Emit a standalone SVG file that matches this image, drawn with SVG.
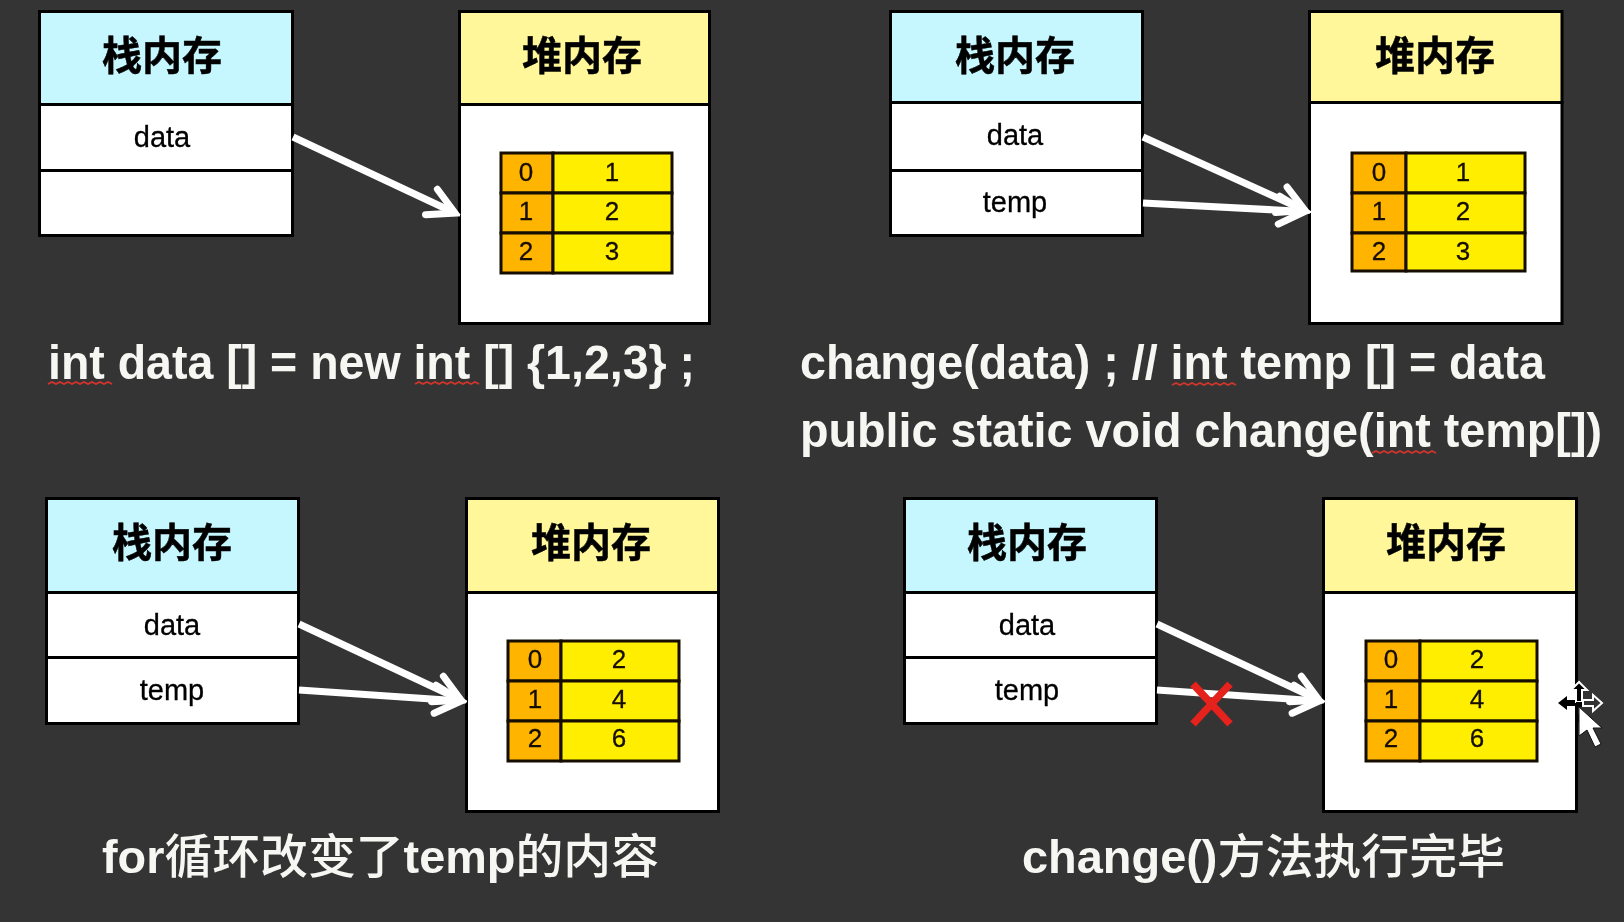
<svg xmlns="http://www.w3.org/2000/svg" width="1624" height="922" viewBox="0 0 1624 922">
<style>
.box{stroke:#000;stroke-width:3}
.stack{fill:#c6f7ff}.heap{fill:#fff799}.cell{fill:#fff}
.idx{fill:#ffb400;stroke:#140e00;stroke-width:3}.val{fill:#ffee00;stroke:#140e00;stroke-width:3}
.t{font-family:"Noto Sans CJK SC",sans-serif;font-size:40px;font-weight:700;fill:#000;stroke:#000;stroke-width:.5;text-anchor:middle}
.v{font-family:"Liberation Sans",Arial,sans-serif;font-size:29px;fill:#000;stroke:#000;stroke-width:.3;text-anchor:middle}
.n{font-family:"Liberation Sans",Arial,sans-serif;font-size:26px;fill:#140e00;stroke:#140e00;stroke-width:.3;text-anchor:middle}
.c{font-family:"Liberation Sans","Noto Sans CJK SC",sans-serif;font-size:48px;font-weight:700;fill:#f6f6f3}
.c2{font-size:46px}
.z{font-family:"Noto Sans CJK SC",sans-serif;font-size:47px;font-weight:500}
.arrow{fill:none;stroke:#fff;stroke-width:7;marker-end:url(#open)}
.sq{fill:none;stroke:#d4342c;stroke-width:1.8}
</style>
<defs>
<marker id="open" markerUnits="userSpaceOnUse" viewBox="-36 -20 42 40" refX="0" refY="0" markerWidth="42" markerHeight="40" orient="auto">
<path d="M-26,-14 L0,0 L-26,14" fill="none" stroke="#fff" stroke-width="7" stroke-linecap="round"/>
</marker>
<filter id="soft" x="-2%" y="-2%" width="104%" height="104%"><feGaussianBlur stdDeviation="0.5"/></filter>
</defs>
<rect width="1624" height="922" fill="#343434"/>
<g filter="url(#soft)">
<g id="stack1">
<rect class="box stack" x="39.500" y="11.500" width="253" height="93"/>
<rect class="box cell" x="39.500" y="104.500" width="253" height="66"/>
<rect class="box cell" x="39.500" y="170.500" width="253" height="65"/>
<text class="t" x="162" y="70">栈内存</text>
<text class="v" x="162" y="147">data</text>
</g>
<g id="heap1">
<rect class="box heap" x="459.500" y="11.500" width="250" height="93"/>
<rect class="box cell" x="459.500" y="104.500" width="250" height="219"/>
<text class="t" x="582" y="70">堆内存</text>
<rect class="idx" x="501" y="153" width="52" height="40"/><rect class="val" x="553" y="153" width="119" height="40"/>
<rect class="idx" x="501" y="193" width="52" height="40"/><rect class="val" x="553" y="193" width="119" height="40"/>
<rect class="idx" x="501" y="233" width="52" height="40"/><rect class="val" x="553" y="233" width="119" height="40"/>
<text class="n" x="526" y="181">0</text><text class="n" x="612" y="181">1</text>
<text class="n" x="526" y="220">1</text><text class="n" x="612" y="220">2</text>
<text class="n" x="526" y="260">2</text><text class="n" x="612" y="260">3</text>
</g>
<g id="stack2">
<rect class="box stack" x="890.500" y="11.500" width="252" height="91"/>
<rect class="box cell" x="890.500" y="102.500" width="252" height="68"/>
<rect class="box cell" x="890.500" y="170.500" width="252" height="65"/>
<text class="t" x="1015" y="70">栈内存</text>
<text class="v" x="1015" y="145">data</text>
<text class="v" x="1015" y="212">temp</text>
</g>
<g id="heap2">
<rect class="box heap" x="1309.500" y="11.500" width="252.500" height="91"/>
<rect class="box cell" x="1309.500" y="102.500" width="252.500" height="221"/>
<text class="t" x="1435" y="70">堆内存</text>
<rect class="idx" x="1352" y="153" width="54" height="40"/><rect class="val" x="1406" y="153" width="119" height="40"/>
<rect class="idx" x="1352" y="193" width="54" height="40"/><rect class="val" x="1406" y="193" width="119" height="40"/>
<rect class="idx" x="1352" y="233" width="54" height="38"/><rect class="val" x="1406" y="233" width="119" height="38"/>
<text class="n" x="1379" y="181">0</text><text class="n" x="1463" y="181">1</text>
<text class="n" x="1379" y="220">1</text><text class="n" x="1463" y="220">2</text>
<text class="n" x="1379" y="260">2</text><text class="n" x="1463" y="260">3</text>
</g>
<g id="stack3">
<rect class="box stack" x="46.500" y="498.500" width="252" height="94"/>
<rect class="box cell" x="46.500" y="592.500" width="252" height="65"/>
<rect class="box cell" x="46.500" y="657.500" width="252" height="66"/>
<text class="t" x="172" y="557">栈内存</text>
<text class="v" x="172" y="635">data</text>
<text class="v" x="172" y="700">temp</text>
</g>
<g id="heap3">
<rect class="box heap" x="466.500" y="498.500" width="252" height="94"/>
<rect class="box cell" x="466.500" y="592.500" width="252" height="219"/>
<text class="t" x="591" y="557">堆内存</text>
<rect class="idx" x="508" y="641" width="53" height="40"/><rect class="val" x="561" y="641" width="118" height="40"/>
<rect class="idx" x="508" y="681" width="53" height="40"/><rect class="val" x="561" y="681" width="118" height="40"/>
<rect class="idx" x="508" y="721" width="53" height="40"/><rect class="val" x="561" y="721" width="118" height="40"/>
<text class="n" x="535" y="668">0</text><text class="n" x="619" y="668">2</text>
<text class="n" x="535" y="708">1</text><text class="n" x="619" y="708">4</text>
<text class="n" x="535" y="747">2</text><text class="n" x="619" y="747">6</text>
</g>
<g id="stack4">
<rect class="box stack" x="904.500" y="498.500" width="252" height="94"/>
<rect class="box cell" x="904.500" y="592.500" width="252" height="65"/>
<rect class="box cell" x="904.500" y="657.500" width="252" height="66"/>
<text class="t" x="1027" y="557">栈内存</text>
<text class="v" x="1027" y="635">data</text>
<text class="v" x="1027" y="700">temp</text>
</g>
<g id="heap4">
<rect class="box heap" x="1323.500" y="498.500" width="253" height="94"/>
<rect class="box cell" x="1323.500" y="592.500" width="253" height="219"/>
<text class="t" x="1446" y="557">堆内存</text>
<rect class="idx" x="1366" y="641" width="54" height="40"/><rect class="val" x="1420" y="641" width="117" height="40"/>
<rect class="idx" x="1366" y="681" width="54" height="40"/><rect class="val" x="1420" y="681" width="117" height="40"/>
<rect class="idx" x="1366" y="721" width="54" height="40"/><rect class="val" x="1420" y="721" width="117" height="40"/>
<text class="n" x="1391" y="668">0</text><text class="n" x="1477" y="668">2</text>
<text class="n" x="1391" y="708">1</text><text class="n" x="1477" y="708">4</text>
<text class="n" x="1391" y="747">2</text><text class="n" x="1477" y="747">6</text>
</g>
<g id="connectors">
<line class="arrow" x1="293" y1="137" x2="455" y2="213"/>
<line class="arrow" x1="1143" y1="137" x2="1305" y2="210.500"/>
<line class="arrow" x1="1143" y1="203" x2="1305" y2="211.500"/>
<line class="arrow" x1="299" y1="624" x2="461" y2="700"/>
<line class="arrow" x1="299" y1="690" x2="461" y2="701"/>
<line class="arrow" x1="1157" y1="624" x2="1319" y2="700"/>
<line class="arrow" x1="1157" y1="690" x2="1319" y2="701"/>
</g>
<g id="cross"><path d="M1193,684 L1230,724 M1230,684 L1193,724" fill="none" stroke="#e5201c" stroke-width="7.500"/></g>
<g id="captions">
<text class="c" x="48" y="379" textLength="647" lengthAdjust="spacingAndGlyphs">int data [] = new int [] {1,2,3} ;</text>
<text class="c" x="800" y="379" textLength="745" lengthAdjust="spacingAndGlyphs">change(data) ; // int temp [] = data</text>
<text class="c" x="800" y="447" textLength="802" lengthAdjust="spacingAndGlyphs">public static void change(int temp[])</text>
<text class="c c2" x="102" y="873" textLength="557" lengthAdjust="spacingAndGlyphs">for<tspan class="z">循环改变了</tspan>temp<tspan class="z">的内容</tspan></text>
<text class="c c2" x="1022" y="873" textLength="483" lengthAdjust="spacingAndGlyphs">change()<tspan class="z">方法执行完毕</tspan></text>
<path class="sq" d="M48,384 l4,-2 l4,2 l4,-2 l4,2 l4,-2 l4,2 l4,-2 l4,2 l4,-2 l4,2 l4,-2 l4,2 l4,-2 l4,2 l4,-2 l4,2"/>
<path class="sq" d="M415,384 l4,-2 l4,2 l4,-2 l4,2 l4,-2 l4,2 l4,-2 l4,2 l4,-2 l4,2 l4,-2 l4,2 l4,-2 l4,2 l4,-2 l4,2"/>
<path class="sq" d="M1172,385 l4,-2 l4,2 l4,-2 l4,2 l4,-2 l4,2 l4,-2 l4,2 l4,-2 l4,2 l4,-2 l4,2 l4,-2 l4,2 l4,-2 l4,2"/>
<path class="sq" d="M1372,453 l4,-2 l4,2 l4,-2 l4,2 l4,-2 l4,2 l4,-2 l4,2 l4,-2 l4,2 l4,-2 l4,2 l4,-2 l4,2 l4,-2 l4,2"/>
</g>
<g id="cursor">
<path d="M1558,703 l9,-7 v4 h9 v6 h-9 v4 z" fill="#000"/>
<path d="M1579,682 l-8,8 h5 v12 h6 v-12 h5 z" fill="#000" stroke="#fff" stroke-width="2"/>
<path d="M1602,703 l-9,-8 v5 h-10 v6 h10 v5 z" fill="#333" stroke="#fff" stroke-width="2"/>
<rect x="1576" y="702" width="6" height="5" fill="#000"/>
<path d="M1575,714 h4 v8 h-4 z" fill="#000"/>
<path d="M1579,707 v29 l8,-6 l8,17 l6,-3 l-8,-16 h9 z" fill="#fff" stroke="#111" stroke-width="1"/>
</g>
</g>
</svg>
